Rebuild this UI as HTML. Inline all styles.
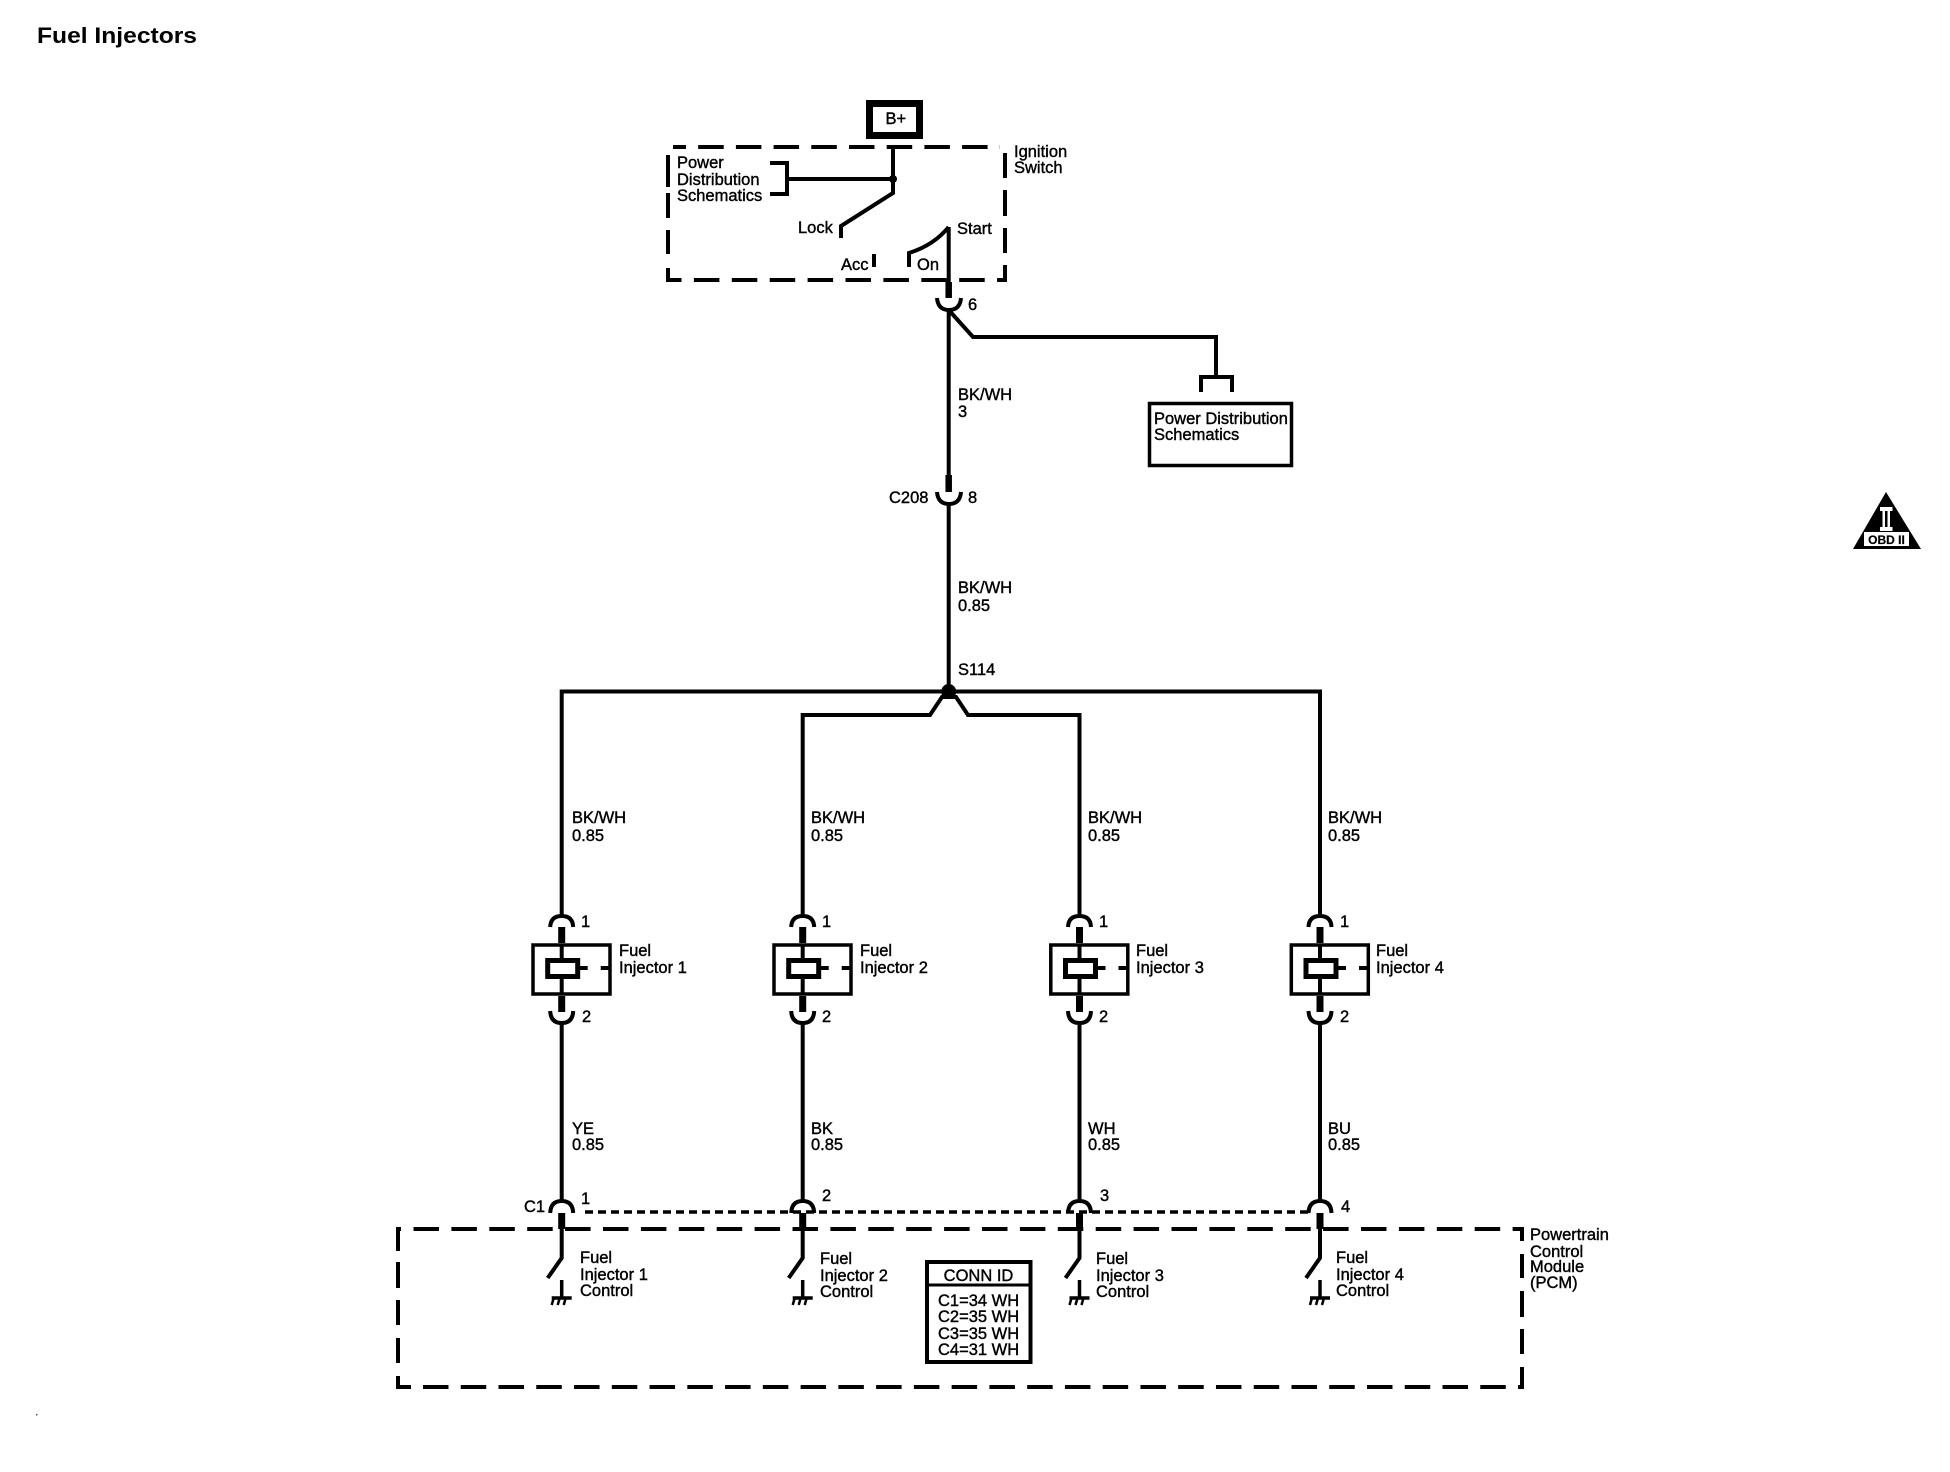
<!DOCTYPE html>
<html lang="en"><head><meta charset="utf-8"><title>Fuel Injectors</title>
<style>
html,body{margin:0;padding:0;background:#fff}
svg{display:block}
text{font-family:"Liberation Sans",Arial,sans-serif;font-size:16.5px;fill:#000;stroke:#000;stroke-width:.4}
.w{fill:none;stroke:#000;stroke-width:4}
.d{fill:none;stroke:#000;stroke-width:4}
</style></head><body>
<svg xmlns="http://www.w3.org/2000/svg" width="1950" height="1472" viewBox="0 0 1950 1472">
<defs>
<g id="inj" fill="none" stroke="#000">
  <path d="M-11.5,927Q-11,916 0,916Q11,916 11.5,927" stroke-width="4"/>
  <path d="M0,927V943M0,996V1012" stroke-width="7"/>
  <rect x="-28.7" y="945" width="77" height="49" stroke-width="3.5"/>
  <path d="M0,945V994" stroke-width="4"/>
  <rect x="-14" y="960.5" width="30" height="16" stroke-width="5" fill="#fff"/>
  <path d="M18,968H26M39,968H48" stroke-width="4"/>
  <path d="M-11.5,1011Q-11,1023 0,1023Q11,1023 11.5,1011" stroke-width="4"/>
  <path d="M0,1023V1201" stroke-width="4"/>
  <path d="M-11.5,1213Q-11,1201 0,1201Q11,1201 11.5,1213" stroke-width="4"/>
  <path d="M0,1213V1229" stroke-width="7"/>
  <path d="M0,1229V1258L-14,1278" stroke-width="4"/>
  <path d="M0,1280V1298M-10,1298H10" stroke-width="3.5"/>
  <path d="M-8,1298L-10,1305M-2,1298L-4,1305M4,1298L2,1305" stroke-width="2.5"/>
</g>
</defs>

<text x="37" y="43" style="font-size:22.3px;font-weight:bold;stroke-width:0" textLength="160" lengthAdjust="spacingAndGlyphs">Fuel Injectors</text>

<!-- B+ -->
<rect x="869.5" y="103.5" width="50" height="32" fill="none" stroke="#000" stroke-width="7"/>
<text x="885.5" y="124">B+</text>

<!-- Ignition switch box -->
<path class="d" d="M673,147H1000" stroke-dasharray="25.5 12.2" stroke-dashoffset="12.5"/>
<path class="d" d="M668,280H1005" stroke-dasharray="25.5 12.4" stroke-dashoffset="12"/>
<path class="d" d="M668,155V187M668,193V218M668,230V254M668,268V282M1005,153V178M1005,190V216M1005,228V253M1005,265V282"/>
<path class="w" d="M893,147V193L841,226V238"/>
<path class="w" d="M787,179H893"/>
<circle cx="893" cy="179" r="4"/>
<path class="w" d="M770,163H787V194H770"/>
<path class="w" d="M874,254V267"/>
<path class="w" stroke-width="3.5" d="M909,267V253C925,248 938,240 948.7,227"/>
<path class="w" d="M948.7,227V282"/>
<path fill="none" stroke="#000" stroke-width="6.5" d="M948.7,282V298"/>
<path class="w" d="M937,298Q938,310 949,310Q960,310 961,298"/>
<path class="w" d="M948.7,310V475"/>
<path class="w" d="M948.7,310L973,337H1216V377M1201,392V377H1232V392"/>
<rect x="1149.5" y="403.5" width="142" height="62" fill="none" stroke="#000" stroke-width="3.5"/>
<path fill="none" stroke="#000" stroke-width="6.5" d="M948.7,475V492"/>
<path class="w" d="M937,492Q938,504 949,504Q960,504 961,492"/>
<path class="w" d="M948.7,504V692"/>
<circle cx="948.7" cy="691.5" r="7.5"/>
<path class="w" d="M561.7,916V691.5H1320V916"/>
<path class="w" d="M802.7,916V715H930L942,697H956L968,715H1079.5V916"/>

<!-- Injectors and PCM branches -->
<use href="#inj" x="561.7"/>
<use href="#inj" x="802.7"/>
<use href="#inj" x="1079.5"/>
<use href="#inj" x="1320"/>

<!-- Dotted -->
<path fill="none" stroke="#000" stroke-width="3.5" stroke-dasharray="8 5" d="M585,1212H1308"/>

<!-- PCM box -->
<path class="d" d="M413.5,1229H1522" stroke-dasharray="25.5 12.4"/>
<path class="d" d="M398,1229H401"/>
<path class="d" d="M398,1387H411"/>
<path class="d" d="M423,1387H1522" stroke-dasharray="25.5 12.26"/>
<path class="d" d="M398,1227V1251M398,1262V1288M398,1300V1325M398,1338V1363M398,1376V1389M1522,1227V1241M1522,1254V1278M1522,1291V1317M1522,1329V1354M1522,1367V1389"/>

<!-- CONN ID -->
<rect x="927" y="1262" width="103.5" height="100" fill="none" stroke="#000" stroke-width="4"/>
<path d="M927,1285H1030" stroke="#000" stroke-width="3"/>
<text x="978.5" y="1281" text-anchor="middle">CONN ID</text>
<text x="938" y="1306">C1=34 WH</text>
<text x="938" y="1322">C2=35 WH</text>
<text x="938" y="1339">C3=35 WH</text>
<text x="938" y="1355">C4=31 WH</text>

<!-- Top labels -->
<text x="1014" y="157">Ignition</text><text x="1014" y="173">Switch</text>
<text x="677" y="168">Power</text><text x="677" y="185">Distribution</text><text x="677" y="201">Schematics</text>
<text x="798" y="233">Lock</text><text x="957" y="234">Start</text>
<text x="841" y="270">Acc</text><text x="917" y="270">On</text>
<text x="968" y="310">6</text>
<text x="958" y="400">BK/WH</text><text x="958" y="417">3</text>
<text x="1154" y="424">Power Distribution</text><text x="1154" y="440">Schematics</text>
<text x="889" y="503">C208</text><text x="968" y="503">8</text>
<text x="958" y="593">BK/WH</text><text x="958" y="611">0.85</text>
<text x="958" y="675">S114</text>

<!-- Upper wire labels -->
<text x="572" y="823">BK/WH</text><text x="572" y="841">0.85</text>
<text x="811" y="823">BK/WH</text><text x="811" y="841">0.85</text>
<text x="1088" y="823">BK/WH</text><text x="1088" y="841">0.85</text>
<text x="1328" y="823">BK/WH</text><text x="1328" y="841">0.85</text>

<!-- Pin labels -->
<text x="581" y="927">1</text><text x="582" y="1022">2</text>
<text x="822" y="927">1</text><text x="822" y="1022">2</text>
<text x="1099" y="927">1</text><text x="1099" y="1022">2</text>
<text x="1340" y="927">1</text><text x="1340" y="1022">2</text>

<!-- Injector labels -->
<text x="619" y="956">Fuel</text><text x="619" y="973">Injector 1</text>
<text x="860" y="956">Fuel</text><text x="860" y="973">Injector 2</text>
<text x="1136" y="956">Fuel</text><text x="1136" y="973">Injector 3</text>
<text x="1376" y="956">Fuel</text><text x="1376" y="973">Injector 4</text>

<!-- Lower wire labels -->
<text x="572" y="1134">YE</text><text x="572" y="1150">0.85</text>
<text x="811" y="1134">BK</text><text x="811" y="1150">0.85</text>
<text x="1088" y="1134">WH</text><text x="1088" y="1150">0.85</text>
<text x="1328" y="1134">BU</text><text x="1328" y="1150">0.85</text>

<!-- C1 pin labels -->
<text x="524" y="1212">C1</text>
<text x="581" y="1204">1</text><text x="822" y="1201">2</text><text x="1100" y="1201">3</text><text x="1341" y="1212">4</text>

<!-- PCM control labels -->
<text x="580" y="1263">Fuel</text><text x="580" y="1280">Injector 1</text><text x="580" y="1296">Control</text>
<text x="820" y="1264">Fuel</text><text x="820" y="1281">Injector 2</text><text x="820" y="1297">Control</text>
<text x="1096" y="1264">Fuel</text><text x="1096" y="1281">Injector 3</text><text x="1096" y="1297">Control</text>
<text x="1336" y="1263">Fuel</text><text x="1336" y="1280">Injector 4</text><text x="1336" y="1296">Control</text>
<text x="1530" y="1240">Powertrain</text><text x="1530" y="1257">Control</text><text x="1530" y="1272">Module</text><text x="1530" y="1288">(PCM)</text>

<!-- OBD II -->
<path d="M1886,492L1921,549H1853Z" fill="#000"/>
<rect x="1880" y="507" width="12.5" height="4" fill="#fff"/>
<rect x="1880" y="527" width="12.5" height="4" fill="#fff"/>
<rect x="1882.5" y="507" width="7.5" height="24" fill="#fff"/>
<rect x="1885" y="511" width="2.5" height="16" fill="#000"/>
<rect x="1864" y="532" width="45" height="14" fill="#fff"/>
<text x="1886.5" y="544" text-anchor="middle" style="font-size:12px;font-weight:bold;stroke-width:.2">OBD II</text>

<rect x="36" y="1414" width="1.5" height="1.5" fill="#555"/>
</svg>
</body></html>
